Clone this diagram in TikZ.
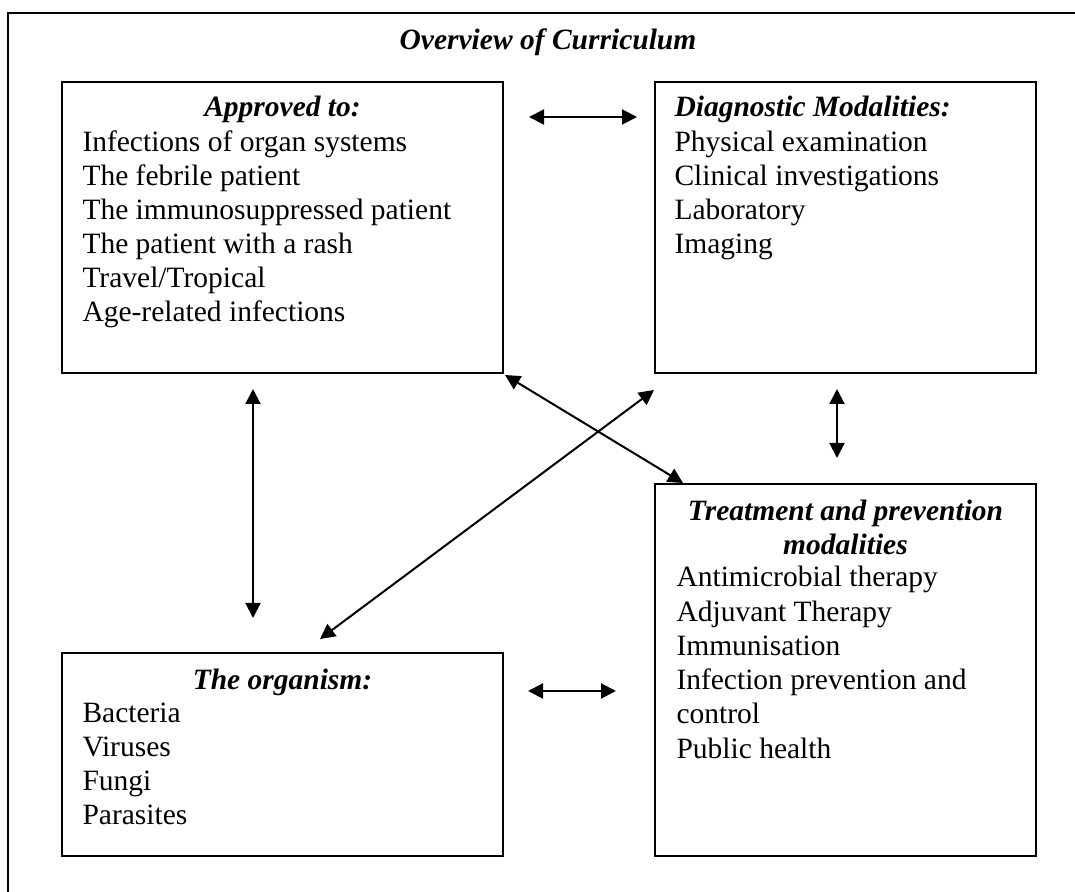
\documentclass[tikz,border=0pt]{standalone}
\usepackage{fontspec}
\setmainfont{Liberation Serif}
\usetikzlibrary{arrows.meta,fit,calc,positioning}

\begin{document}
\begin{tikzpicture}[x=0.4pt,y=-0.4pt]
  \tikzstyle{box} = [draw,line width=0.8pt,inner sep=0pt]
  \tikzstyle{arrow} = [line width=0.8pt,{Triangle[length=6pt,width=6pt]}-{Triangle[length=6pt,width=6pt]}]
  \tikzstyle{head} = [inner sep=0pt,anchor=base,font=\fontsize{11.8}{13.6}\selectfont\bfseries\itshape]
  \tikzstyle{item} = [inner sep=0pt,anchor=base west,font=\fontsize{11.8}{13.6}\selectfont]
  \useasboundingbox (0,0) rectangle (1075,892);
  %Draw the outer frame
  \draw[line width=1pt] (8,892) -- (8,13) -- (1075,13);
  \node[head] (title) at (548,50) {Overview of Curriculum};
  %Draw the boxes
  \node[box,fit={(62,82) (503,373)}] (apr) {};
  \node[box,fit={(655,82) (1036,373)}] (dia) {};
  \node[box,fit={(655,484) (1036,856)}] (trt) {};
  \node[box,fit={(62,653) (503,856)}] (org) {};
  %Box headings
  \node[head] (apr-head) at ($(apr.north)+(0,36)$) {Approved to:};
  \node[head,anchor=base west] (dia-head) at ($(dia.north west)+(20,36)$) {Diagnostic Modalities:};
  \node[head] (trt-head) at ($(trt.north)+(0,38)$) {Treatment and prevention};
  \node[head] (trt-head2) at ($(trt.north)+(0,72)$) {modalities};
  \node[head] (org-head) at ($(org.north)+(0,38)$) {The organism:};
  %Box items
  \foreach \t [count=\i from 0] in {Infections of organ systems,The febrile patient,The immunosuppressed patient,The patient with a rash,Travel/Tropical,Age-related infections}
    \node[item] (apr-\i) at ($(apr.north west)+(21,71+34*\i)$) {\t};
  \foreach \t [count=\i from 0] in {Physical examination,Clinical investigations,Laboratory,Imaging}
    \node[item] (dia-\i) at ($(dia.north west)+(20,71+34*\i)$) {\t};
  \foreach \t [count=\i from 0] in {Antimicrobial therapy,Adjuvant Therapy,Immunisation,Infection prevention and,control,Public health}
    \node[item] (trt-\i) at ($(trt.north west)+(22,104+34.2*\i)$) {\t};
  \foreach \t [count=\i from 0] in {Bacteria,Viruses,Fungi,Parasites}
    \node[item] (org-\i) at ($(org.north west)+(21,71+34*\i)$) {\t};
  %Arrow ends
  \coordinate (ad1) at (529,117);
  \coordinate (ad2) at (637,117);
  \coordinate (ao1) at (253,389);
  \coordinate (ao2) at (253,618);
  \coordinate (dt1) at (837,389);
  \coordinate (dt2) at (837,458);
  \coordinate (ot1) at (528,691);
  \coordinate (ot2) at (616,691);
  \coordinate (at1) at (505,375);
  \coordinate (at2) at (683,483);
  \coordinate (od1) at (320,639);
  \coordinate (od2) at (654,390);
  %Draw the arrows
  \draw[arrow] (ad1) -- (ad2);
  \draw[arrow] (ao1) -- (ao2);
  \draw[arrow] (dt1) -- (dt2);
  \draw[arrow] (ot1) -- (ot2);
  \draw[arrow] (at1) -- (at2);
  \draw[arrow] (od1) -- (od2);
\end{tikzpicture}
\end{document}
